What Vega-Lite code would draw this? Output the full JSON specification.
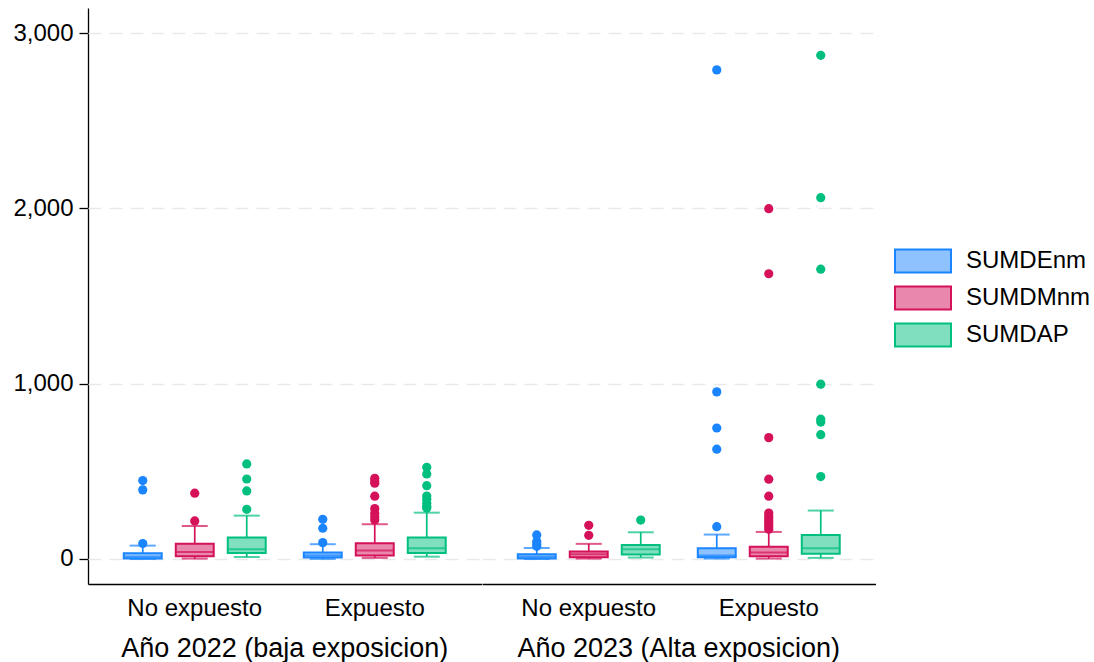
{
  "$schema": "https://vega.github.io/schema/vega-lite/v6.json",
  "background": "white",
  "autosize": {"type": "pad"},
  "padding": {"left": 12, "top": 8, "right": 0, "bottom": 0},
  "config": {
    "font": "Liberation Sans",
    "view": {"stroke": "transparent", "strokeWidth": 0},
    "axisY": {"domainColor": "black", "domainWidth": 1.3, "tickColor": "black", "tickSize": 9, "tickWidth": 1.3, "labelFontSize": 24, "labelColor": "black", "labelPadding": 6, "grid": true, "gridColor": "#e9e9e9", "gridDash": [13, 8], "gridWidth": 1.5},
    "axisX": {"domainColor": "black", "domainWidth": 1.3, "ticks": false, "labelFontSize": 24, "labelColor": "black", "labelPadding": 12, "labelAngle": 0, "grid": false},
    "legend": {"title": null, "orient": "none", "legendX": 820, "legendY": 238, "padding": 0, "labelFontSize": 24, "labelColor": "black", "symbolType": "M-2,-0.82H2V0.82H-2Z", "symbolSize": 784, "symbolStrokeWidth": 2, "labelOffset": 28, "rowPadding": 5}
  },
  "data": {"values": [
    {"grupo": "Año 2022 (baja exposicion)", "exposicion": "No expuesto", "variable": "SUMDEnm", "min": 0, "q1": 3, "mediana": 12, "q3": 32, "max": 76},
    {"grupo": "Año 2022 (baja exposicion)", "exposicion": "No expuesto", "variable": "SUMDMnm", "min": 2, "q1": 15, "mediana": 40, "q3": 86, "max": 188},
    {"grupo": "Año 2022 (baja exposicion)", "exposicion": "No expuesto", "variable": "SUMDAP", "min": 11, "q1": 34, "mediana": 55, "q3": 122, "max": 247},
    {"grupo": "Año 2022 (baja exposicion)", "exposicion": "Expuesto", "variable": "SUMDEnm", "min": 0, "q1": 8, "mediana": 20, "q3": 36, "max": 84},
    {"grupo": "Año 2022 (baja exposicion)", "exposicion": "Expuesto", "variable": "SUMDMnm", "min": 6, "q1": 20, "mediana": 48, "q3": 89, "max": 198},
    {"grupo": "Año 2022 (baja exposicion)", "exposicion": "Expuesto", "variable": "SUMDAP", "min": 13, "q1": 34, "mediana": 61, "q3": 122, "max": 264},
    {"grupo": "Año 2023 (Alta exposicion)", "exposicion": "No expuesto", "variable": "SUMDEnm", "min": 0, "q1": 3, "mediana": 12, "q3": 27, "max": 63},
    {"grupo": "Año 2023 (Alta exposicion)", "exposicion": "No expuesto", "variable": "SUMDMnm", "min": 2, "q1": 10, "mediana": 27, "q3": 42, "max": 86},
    {"grupo": "Año 2023 (Alta exposicion)", "exposicion": "No expuesto", "variable": "SUMDAP", "min": 8, "q1": 25, "mediana": 55, "q3": 80, "max": 152},
    {"grupo": "Año 2023 (Alta exposicion)", "exposicion": "Expuesto", "variable": "SUMDEnm", "min": 2, "q1": 10, "mediana": 20, "q3": 61, "max": 139},
    {"grupo": "Año 2023 (Alta exposicion)", "exposicion": "Expuesto", "variable": "SUMDMnm", "min": 2, "q1": 15, "mediana": 36, "q3": 70, "max": 154},
    {"grupo": "Año 2023 (Alta exposicion)", "exposicion": "Expuesto", "variable": "SUMDAP", "min": 6, "q1": 30, "mediana": 61, "q3": 137, "max": 276},

    {"grupo": "Año 2022 (baja exposicion)", "exposicion": "No expuesto", "variable": "SUMDEnm", "valor": 88},
    {"grupo": "Año 2022 (baja exposicion)", "exposicion": "No expuesto", "variable": "SUMDEnm", "valor": 394},
    {"grupo": "Año 2022 (baja exposicion)", "exposicion": "No expuesto", "variable": "SUMDEnm", "valor": 447},
    {"grupo": "Año 2022 (baja exposicion)", "exposicion": "No expuesto", "variable": "SUMDMnm", "valor": 217},
    {"grupo": "Año 2022 (baja exposicion)", "exposicion": "No expuesto", "variable": "SUMDMnm", "valor": 375},
    {"grupo": "Año 2022 (baja exposicion)", "exposicion": "No expuesto", "variable": "SUMDAP", "valor": 283},
    {"grupo": "Año 2022 (baja exposicion)", "exposicion": "No expuesto", "variable": "SUMDAP", "valor": 388},
    {"grupo": "Año 2022 (baja exposicion)", "exposicion": "No expuesto", "variable": "SUMDAP", "valor": 456},
    {"grupo": "Año 2022 (baja exposicion)", "exposicion": "No expuesto", "variable": "SUMDAP", "valor": 542},

    {"grupo": "Año 2022 (baja exposicion)", "exposicion": "Expuesto", "variable": "SUMDEnm", "valor": 93},
    {"grupo": "Año 2022 (baja exposicion)", "exposicion": "Expuesto", "variable": "SUMDEnm", "valor": 175},
    {"grupo": "Año 2022 (baja exposicion)", "exposicion": "Expuesto", "variable": "SUMDEnm", "valor": 226},
    {"grupo": "Año 2022 (baja exposicion)", "exposicion": "Expuesto", "variable": "SUMDMnm", "valor": 222},
    {"grupo": "Año 2022 (baja exposicion)", "exposicion": "Expuesto", "variable": "SUMDMnm", "valor": 240},
    {"grupo": "Año 2022 (baja exposicion)", "exposicion": "Expuesto", "variable": "SUMDMnm", "valor": 261},
    {"grupo": "Año 2022 (baja exposicion)", "exposicion": "Expuesto", "variable": "SUMDMnm", "valor": 287},
    {"grupo": "Año 2022 (baja exposicion)", "exposicion": "Expuesto", "variable": "SUMDMnm", "valor": 358},
    {"grupo": "Año 2022 (baja exposicion)", "exposicion": "Expuesto", "variable": "SUMDMnm", "valor": 432},
    {"grupo": "Año 2022 (baja exposicion)", "exposicion": "Expuesto", "variable": "SUMDMnm", "valor": 445},
    {"grupo": "Año 2022 (baja exposicion)", "exposicion": "Expuesto", "variable": "SUMDMnm", "valor": 460},
    {"grupo": "Año 2022 (baja exposicion)", "exposicion": "Expuesto", "variable": "SUMDAP", "valor": 290},
    {"grupo": "Año 2022 (baja exposicion)", "exposicion": "Expuesto", "variable": "SUMDAP", "valor": 300},
    {"grupo": "Año 2022 (baja exposicion)", "exposicion": "Expuesto", "variable": "SUMDAP", "valor": 318},
    {"grupo": "Año 2022 (baja exposicion)", "exposicion": "Expuesto", "variable": "SUMDAP", "valor": 340},
    {"grupo": "Año 2022 (baja exposicion)", "exposicion": "Expuesto", "variable": "SUMDAP", "valor": 359},
    {"grupo": "Año 2022 (baja exposicion)", "exposicion": "Expuesto", "variable": "SUMDAP", "valor": 418},
    {"grupo": "Año 2022 (baja exposicion)", "exposicion": "Expuesto", "variable": "SUMDAP", "valor": 485},
    {"grupo": "Año 2022 (baja exposicion)", "exposicion": "Expuesto", "variable": "SUMDAP", "valor": 523},

    {"grupo": "Año 2023 (Alta exposicion)", "exposicion": "No expuesto", "variable": "SUMDEnm", "valor": 72},
    {"grupo": "Año 2023 (Alta exposicion)", "exposicion": "No expuesto", "variable": "SUMDEnm", "valor": 85},
    {"grupo": "Año 2023 (Alta exposicion)", "exposicion": "No expuesto", "variable": "SUMDEnm", "valor": 99},
    {"grupo": "Año 2023 (Alta exposicion)", "exposicion": "No expuesto", "variable": "SUMDEnm", "valor": 137},
    {"grupo": "Año 2023 (Alta exposicion)", "exposicion": "No expuesto", "variable": "SUMDMnm", "valor": 135},
    {"grupo": "Año 2023 (Alta exposicion)", "exposicion": "No expuesto", "variable": "SUMDMnm", "valor": 192},
    {"grupo": "Año 2023 (Alta exposicion)", "exposicion": "No expuesto", "variable": "SUMDAP", "valor": 222},

    {"grupo": "Año 2023 (Alta exposicion)", "exposicion": "Expuesto", "variable": "SUMDEnm", "valor": 184},
    {"grupo": "Año 2023 (Alta exposicion)", "exposicion": "Expuesto", "variable": "SUMDEnm", "valor": 626},
    {"grupo": "Año 2023 (Alta exposicion)", "exposicion": "Expuesto", "variable": "SUMDEnm", "valor": 747},
    {"grupo": "Año 2023 (Alta exposicion)", "exposicion": "Expuesto", "variable": "SUMDEnm", "valor": 953},
    {"grupo": "Año 2023 (Alta exposicion)", "exposicion": "Expuesto", "variable": "SUMDEnm", "valor": 2790},
    {"grupo": "Año 2023 (Alta exposicion)", "exposicion": "Expuesto", "variable": "SUMDMnm", "valor": 170},
    {"grupo": "Año 2023 (Alta exposicion)", "exposicion": "Expuesto", "variable": "SUMDMnm", "valor": 185},
    {"grupo": "Año 2023 (Alta exposicion)", "exposicion": "Expuesto", "variable": "SUMDMnm", "valor": 200},
    {"grupo": "Año 2023 (Alta exposicion)", "exposicion": "Expuesto", "variable": "SUMDMnm", "valor": 215},
    {"grupo": "Año 2023 (Alta exposicion)", "exposicion": "Expuesto", "variable": "SUMDMnm", "valor": 230},
    {"grupo": "Año 2023 (Alta exposicion)", "exposicion": "Expuesto", "variable": "SUMDMnm", "valor": 245},
    {"grupo": "Año 2023 (Alta exposicion)", "exposicion": "Expuesto", "variable": "SUMDMnm", "valor": 262},
    {"grupo": "Año 2023 (Alta exposicion)", "exposicion": "Expuesto", "variable": "SUMDMnm", "valor": 358},
    {"grupo": "Año 2023 (Alta exposicion)", "exposicion": "Expuesto", "variable": "SUMDMnm", "valor": 455},
    {"grupo": "Año 2023 (Alta exposicion)", "exposicion": "Expuesto", "variable": "SUMDMnm", "valor": 692},
    {"grupo": "Año 2023 (Alta exposicion)", "exposicion": "Expuesto", "variable": "SUMDMnm", "valor": 1627},
    {"grupo": "Año 2023 (Alta exposicion)", "exposicion": "Expuesto", "variable": "SUMDMnm", "valor": 1998},
    {"grupo": "Año 2023 (Alta exposicion)", "exposicion": "Expuesto", "variable": "SUMDAP", "valor": 470},
    {"grupo": "Año 2023 (Alta exposicion)", "exposicion": "Expuesto", "variable": "SUMDAP", "valor": 709},
    {"grupo": "Año 2023 (Alta exposicion)", "exposicion": "Expuesto", "variable": "SUMDAP", "valor": 781},
    {"grupo": "Año 2023 (Alta exposicion)", "exposicion": "Expuesto", "variable": "SUMDAP", "valor": 797},
    {"grupo": "Año 2023 (Alta exposicion)", "exposicion": "Expuesto", "variable": "SUMDAP", "valor": 997},
    {"grupo": "Año 2023 (Alta exposicion)", "exposicion": "Expuesto", "variable": "SUMDAP", "valor": 1653},
    {"grupo": "Año 2023 (Alta exposicion)", "exposicion": "Expuesto", "variable": "SUMDAP", "valor": 2061},
    {"grupo": "Año 2023 (Alta exposicion)", "exposicion": "Expuesto", "variable": "SUMDAP", "valor": 2873}
  ]},
  "facet": {
    "column": {
      "field": "grupo", "type": "nominal",
      "sort": ["Año 2022 (baja exposicion)", "Año 2023 (Alta exposicion)"],
      "title": null,
      "header": {"labelOrient": "bottom", "labelFontSize": 27, "labelColor": "black", "labelFont": "Liberation Sans", "labelPadding": 16}
    }
  },
  "spacing": 0,
  "spec": {
    "width": 393.5,
    "height": 576,
    "encoding": {
      "x": {"field": "exposicion", "type": "nominal", "sort": ["No expuesto", "Expuesto"], "title": null,
            "scale": {"paddingInner": 0, "paddingOuter": 0.093}},
      "xOffset": {"field": "variable", "type": "nominal", "sort": ["SUMDEnm", "SUMDMnm", "SUMDAP"],
                  "scale": {"paddingInner": 0.27, "paddingOuter": 0.366}}
    },
    "layer": [
      {
        "transform": [{"filter": "isValid(datum.q1)"}],
        "mark": {"type": "rule", "strokeWidth": 1.7},
        "encoding": {
          "y": {"field": "min", "type": "quantitative", "title": null, "scale": {"domain": [-143, 3143], "nice": false, "zero": false}, "axis": {"values": [0, 1000, 2000, 3000], "labelExpr": "format(datum.value, ',.0f')", "title": null}},
          "y2": {"field": "q1"},
          "color": {"field": "variable", "type": "nominal", "scale": {"domain": ["SUMDAP", "SUMDEnm", "SUMDMnm"], "range": ["#00bf7f", "#1a85ff", "#d41159"]}, "legend": null}
        }
      },
      {
        "transform": [{"filter": "isValid(datum.q1)"}],
        "mark": {"type": "rule", "strokeWidth": 1.7},
        "encoding": {
          "y": {"field": "q3", "type": "quantitative", "title": null, "scale": {"domain": [-143, 3143], "nice": false, "zero": false}, "axis": {"values": [0, 1000, 2000, 3000], "labelExpr": "format(datum.value, ',.0f')", "title": null}},
          "y2": {"field": "max"},
          "color": {"field": "variable", "type": "nominal", "scale": {"domain": ["SUMDAP", "SUMDEnm", "SUMDMnm"], "range": ["#00bf7f", "#1a85ff", "#d41159"]}, "legend": null}
        }
      },
      {
        "transform": [{"filter": "isValid(datum.q1)"}],
        "mark": {"type": "bar", "strokeWidth": 2},
        "encoding": {
          "y": {"field": "q1", "type": "quantitative", "title": null, "scale": {"domain": [-143, 3143], "nice": false, "zero": false}, "axis": {"values": [0, 1000, 2000, 3000], "labelExpr": "format(datum.value, ',.0f')", "title": null}},
          "y2": {"field": "q3"},
          "fill": {"field": "variable", "type": "nominal", "scale": {"domain": ["SUMDEnm", "SUMDMnm", "SUMDAP"], "range": ["#8dc2ff", "#e988ac", "#80dfbf"]}},
          "stroke": {"field": "variable", "type": "nominal", "scale": {"domain": ["SUMDEnm", "SUMDMnm", "SUMDAP"], "range": ["#1a85ff", "#d41159", "#00bf7f"]}}
        }
      },
      {
        "transform": [{"filter": "isValid(datum.q1)"}],
        "mark": {"type": "tick", "size": 37, "thickness": 2},
        "encoding": {
          "y": {"field": "mediana", "type": "quantitative", "title": null, "scale": {"domain": [-143, 3143], "nice": false, "zero": false}, "axis": {"values": [0, 1000, 2000, 3000], "labelExpr": "format(datum.value, ',.0f')", "title": null}},
          "color": {"field": "variable", "type": "nominal", "scale": {"domain": ["SUMDAP", "SUMDEnm", "SUMDMnm"], "range": ["#00bf7f", "#1a85ff", "#d41159"]}, "legend": null}
        }
      },
      {
        "transform": [{"filter": "isValid(datum.q1)"}],
        "mark": {"type": "tick", "size": 26, "thickness": 2},
        "encoding": {
          "y": {"field": "min", "type": "quantitative", "title": null, "scale": {"domain": [-143, 3143], "nice": false, "zero": false}, "axis": {"values": [0, 1000, 2000, 3000], "labelExpr": "format(datum.value, ',.0f')", "title": null}},
          "color": {"field": "variable", "type": "nominal", "scale": {"domain": ["SUMDAP", "SUMDEnm", "SUMDMnm"], "range": ["#00bf7f", "#1a85ff", "#d41159"]}, "legend": null}
        }
      },
      {
        "transform": [{"filter": "isValid(datum.q1)"}],
        "mark": {"type": "tick", "size": 26, "thickness": 2},
        "encoding": {
          "y": {"field": "max", "type": "quantitative", "title": null, "scale": {"domain": [-143, 3143], "nice": false, "zero": false}, "axis": {"values": [0, 1000, 2000, 3000], "labelExpr": "format(datum.value, ',.0f')", "title": null}},
          "color": {"field": "variable", "type": "nominal", "scale": {"domain": ["SUMDAP", "SUMDEnm", "SUMDMnm"], "range": ["#00bf7f", "#1a85ff", "#d41159"]}, "legend": null}
        }
      },
      {
        "transform": [{"filter": "isValid(datum.valor)"}],
        "mark": {"type": "circle", "size": 85, "opacity": 1},
        "encoding": {
          "y": {"field": "valor", "type": "quantitative", "title": null, "scale": {"domain": [-143, 3143], "nice": false, "zero": false}, "axis": {"values": [0, 1000, 2000, 3000], "labelExpr": "format(datum.value, ',.0f')", "title": null}},
          "color": {"field": "variable", "type": "nominal", "scale": {"domain": ["SUMDAP", "SUMDEnm", "SUMDMnm"], "range": ["#00bf7f", "#1a85ff", "#d41159"]}, "legend": null}
        }
      }
    ]
  }
}
